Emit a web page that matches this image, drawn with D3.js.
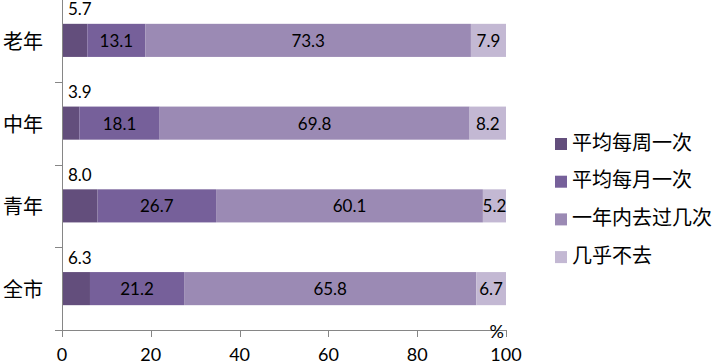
<!DOCTYPE html>
<html>
<head>
<meta charset="utf-8">
<script src="https://cdn.jsdelivr.net/npm/d3@7"></script>
<style>
  body { margin: 0; background: #fff; }
  svg { display: block; }
</style>
</head>
<body>
<svg id="chart" width="718" height="363"></svg>
<script>
// categories, top to bottom
const groups = ["老年", "中年", "青年", "全市"];
// series (stack order, left to right)
const series = ["平均每周一次", "平均每月一次", "一年内去过几次", "几乎不去"];
const weekly  = [5.7, 3.9, 8.0, 6.3];
const monthly = [13.1, 18.1, 26.7, 21.2];
const yearly  = [73.3, 69.8, 60.1, 65.8];
const rarely  = [7.9, 8.2, 5.2, 6.7];
const xTicks = [0, 20, 40, 60, 80, 100];
const colors = ["#634e7c", "#76609a", "#9b8ab4", "#c3b8d3"];

const values = [weekly, monthly, yearly, rarely];
const rows = groups.map((g, i) => {
  const r = { group: g };
  series.forEach((s, j) => r[s] = values[j][i]);
  return r;
});

const svg = d3.select("#chart");
const plotLeft = 62, plotRight = 506, plotTop = -1, plotBottom = 330;
const numFont = "Lato, 'Open Sans', sans-serif";
const cjkFont = "'Noto Sans CJK SC', sans-serif";

const x = d3.scaleLinear().domain([0, 100]).range([plotLeft, plotRight]);
const y = d3.scaleBand().domain(groups).range([plotTop, plotBottom])
  .paddingInner(0.6).paddingOuter(0.3);
// band boundaries for the category ticks
const yb = d3.scaleBand().domain(groups).range([plotTop, plotBottom]);

const stack = d3.stack().keys(series)(rows);

const layer = svg.append("g").selectAll("g")
  .data(stack)
  .join("g")
  .attr("fill", (d, i) => colors[i]);

layer.selectAll("rect")
  .data(d => d)
  .join("rect")
  .attr("x", d => x(d[0]))
  .attr("y", d => y(d.data.group))
  .attr("width", d => x(d[1]) - x(d[0]))
  .attr("height", y.bandwidth());

// value labels - first segment sits above the bar
layer.each(function(s, i) {
  d3.select(this).selectAll("text")
    .data(s)
    .join("text")
    .attr("fill", "#000")
    .attr("font-family", numFont)
    .attr("font-size", 17)
    .attr("dominant-baseline", "central")
    .attr("text-anchor", i === 0 ? "start" : "middle")
    .attr("x", d => i === 0 ? x(d[0]) + 6 : (x(d[0]) + x(d[1])) / 2)
    .attr("y", d => i === 0 ? y(d.data.group) - 15 : y(d.data.group) + y.bandwidth() / 2)
    .text(d => (d[1] - d[0]).toFixed(1));
});

// axes
const axisColor = "#868686";
const ax = svg.append("g").attr("stroke", axisColor).attr("stroke-width", 1);
ax.append("line").attr("x1", plotLeft + 0.5).attr("x2", plotLeft + 0.5)
  .attr("y1", plotTop).attr("y2", plotBottom + 7);
ax.append("line").attr("x1", plotLeft - 7).attr("x2", plotRight)
  .attr("y1", plotBottom + 0.5).attr("y2", plotBottom + 0.5);
ax.selectAll(".yt").data(groups.slice(1)).join("line")
  .attr("x1", plotLeft - 7).attr("x2", plotLeft)
  .attr("y1", d => Math.round(yb(d)) + 0.5).attr("y2", d => Math.round(yb(d)) + 0.5);
ax.selectAll(".xt").data(xTicks.slice(1)).join("line")
  .attr("x1", d => Math.round(x(d)) + 0.5).attr("x2", d => Math.round(x(d)) + 0.5)
  .attr("y1", plotBottom).attr("y2", plotBottom + 7);

svg.append("g").selectAll("text").data(xTicks).join("text")
  .attr("x", d => x(d))
  .attr("y", 354)
  .attr("text-anchor", "middle")
  .attr("dominant-baseline", "central")
  .attr("font-family", numFont)
  .attr("font-size", 18)
  .text(d => d);

svg.append("text")
  .attr("x", plotRight - 2).attr("y", plotBottom + 1)
  .attr("text-anchor", "end")
  .attr("dominant-baseline", "central")
  .attr("font-family", numFont)
  .attr("font-size", 18)
  .text("%");

// category labels
svg.append("g").selectAll("text").data(groups).join("text")
  .attr("x", 43)
  .attr("y", d => y(d) + y.bandwidth() / 2)
  .attr("text-anchor", "end")
  .attr("dominant-baseline", "central")
  .attr("font-family", cjkFont)
  .attr("font-size", 20)
  .text(d => d);

// legend
const legend = svg.append("g").selectAll("g").data(series).join("g")
  .attr("transform", (d, i) => `translate(555, ${138 + i * 37.7})`);
legend.append("rect").attr("width", 12).attr("height", 12)
  .attr("fill", (d, i) => colors[i]);
legend.append("text")
  .attr("x", 17).attr("y", 3)
  .attr("dominant-baseline", "central")
  .attr("font-family", cjkFont)
  .attr("font-size", 20)
  .text(d => d);
</script>
</body>
</html>
